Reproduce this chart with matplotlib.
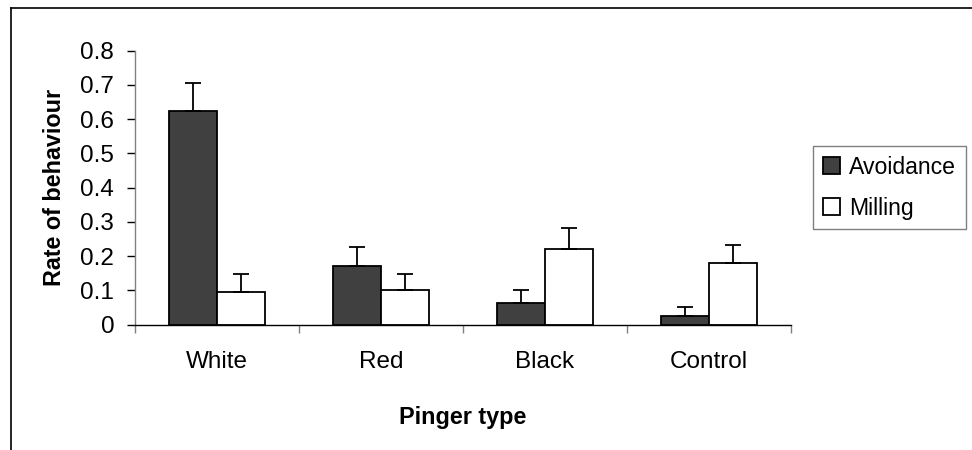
import matplotlib
matplotlib.use("Agg")
import matplotlib.pyplot as plt
import numpy as np
from matplotlib.lines import Line2D

categories = ["White", "Red", "Black", "Control"]
avoidance = [0.625, 0.170, 0.064, 0.024]
avoidance_err = [0.082, 0.057, 0.036, 0.029]
milling = [0.095, 0.100, 0.222, 0.180]
milling_err = [0.052, 0.047, 0.059, 0.054]
series_names = ["Avoidance", "Milling"]

plt.rcParams["font.family"] = ["Liberation Sans", "DejaVu Sans"]
FS = 17.5
FS_LAB = 16.8
FS_LEG = 16.6

fig = plt.figure(figsize=(9.72, 4.5), dpi=100)
ax = fig.add_axes([135 / 972, 1 - 324.7 / 450, (791 - 135) / 972, (324.7 - 50.7) / 450])

x = np.arange(len(categories))
w = 0.293
err_kw = dict(ecolor="black", elinewidth=1.3, capsize=5.8, capthick=1.3)
ax.bar(x - w / 2, avoidance, w, color="#404040", edgecolor="black", linewidth=1.3,
       yerr=[np.zeros(len(x)), avoidance_err], error_kw=err_kw, label=series_names[0])
ax.bar(x + w / 2, milling, w, color="white", edgecolor="black", linewidth=1.3,
       yerr=[np.zeros(len(x)), milling_err], error_kw=err_kw, label=series_names[1])

ax.set_xlim(-0.5, len(categories) - 0.5)
ax.set_ylim(0, 0.8)
ax.set_yticks(np.arange(0, 0.81, 0.1))
ax.set_yticklabels(["0"] + [f"{v:.1f}" for v in np.arange(0.1, 0.81, 0.1)])
ax.set_xticks(np.arange(-0.5, len(categories), 1.0))
ax.set_xticklabels([])
ax.set_xticks(x, minor=True)
ax.set_xticklabels(categories, minor=True)
ax.tick_params(axis="x", which="major", direction="out", length=6, width=1, color="#808080")
ax.tick_params(axis="x", which="minor", length=0, pad=19, labelsize=FS)
ax.tick_params(axis="y", direction="out", length=6, width=1, color="black", pad=9, labelsize=FS)

for s in ["top", "right"]:
    ax.spines[s].set_visible(False)
ax.spines["left"].set_color("#808080")
ax.spines["bottom"].set_color("black")
ax.spines["left"].set_linewidth(1)
ax.spines["bottom"].set_linewidth(1)

ax.set_xlabel("Pinger type", fontsize=FS_LAB, fontweight="bold", labelpad=24)
ax.set_ylabel("Rate of behaviour", fontsize=FS_LAB, fontweight="bold", labelpad=10)

leg = ax.legend(loc="upper left", bbox_to_anchor=(813 / 972, 1 - 146 / 450),
                bbox_transform=fig.transFigure, borderaxespad=0, fontsize=FS_LEG,
                handlelength=0.74, handleheight=0.74, handletextpad=0.4,
                borderpad=0.42, labelspacing=0.78, fancybox=False, framealpha=1,
                edgecolor="#808080")
leg.get_frame().set_linewidth(1)

# outer chart frame (top and left edges visible)
fig.add_artist(Line2D([11 / 972, 1], [1 - 8 / 450, 1 - 8 / 450], color="black", lw=1.2,
                      transform=fig.transFigure))
fig.add_artist(Line2D([11 / 972, 11 / 972], [0, 1 - 8 / 450], color="black", lw=1.2,
                      transform=fig.transFigure))

fig.savefig("out.png", dpi=100)
